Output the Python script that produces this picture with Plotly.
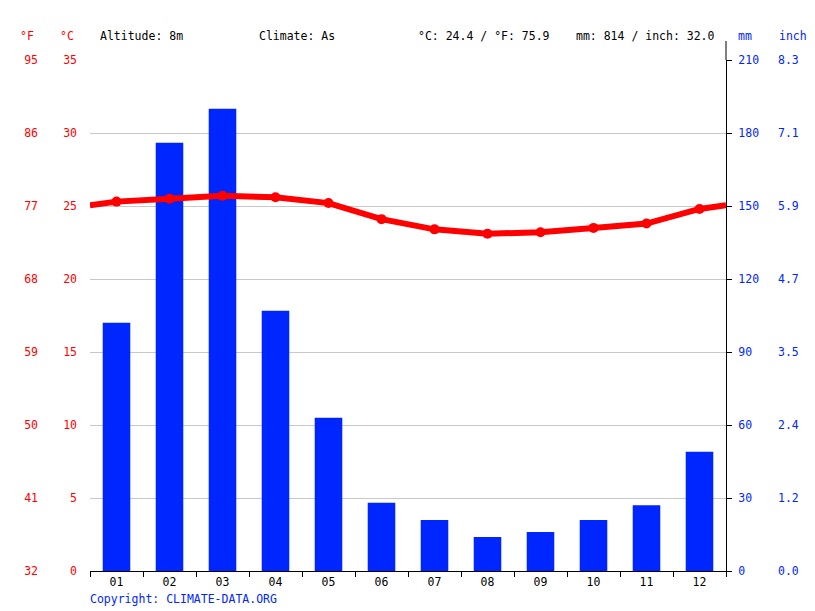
import plotly.graph_objects as go

months = ["01", "02", "03", "04", "05", "06", "07", "08", "09", "10", "11", "12"]
precip_mm = [102, 176, 190, 107, 63, 28, 21, 14, 16, 21, 27, 49]
temp_c = [25.3, 25.5, 25.7, 25.6, 25.2, 24.1, 23.4, 23.1, 23.2, 23.5, 23.8, 24.8]

c_ticks = [0, 5, 10, 15, 20, 25, 30, 35]
f_labels = ["32", "41", "50", "59", "68", "77", "86", "95"]
mm_ticks = [0, 30, 60, 90, 120, 150, 180, 210]
inch_labels = ["0.0", "1.2", "2.4", "3.5", "4.7", "5.9", "7.1", "8.3"]

RED = "#ff0000"
BLUE = "#0026ff"
FONT = "DejaVu Sans Mono"
FS = 11.5

xs = list(range(1, 13))
# line wraps around at the chart edges (mean of December and January)
edge = (temp_c[0] + temp_c[-1]) / 2
line_x = [0.5] + xs + [12.5]
line_y = [edge] + temp_c + [edge]

fig = go.Figure()
fig.add_trace(go.Bar(x=xs, y=precip_mm, marker=dict(color=BLUE, line=dict(width=0)),
                     width=0.52, yaxis="y", hoverinfo="skip"))
fig.add_trace(go.Scatter(x=[None], y=[None], mode="markers", yaxis="y4", hoverinfo="skip"))
fig.add_trace(go.Scatter(x=line_x, y=line_y, mode="lines", yaxis="y2",
                         line=dict(color=RED, width=6), hoverinfo="skip"))
fig.add_trace(go.Scatter(x=xs, y=temp_c, mode="markers", yaxis="y3",
                         marker=dict(color=RED, size=10), hoverinfo="skip"))

PT, PB = 60, 571
def py(v):
    return (PB - v) / (PB - PT)

fig.update_layout(
    width=815, height=611,
    margin=dict(l=0, r=0, t=PT, b=611 - PB),
    paper_bgcolor="white", plot_bgcolor="white",
    showlegend=False,
    font=dict(family=FONT, size=FS, color="black"),
    xaxis=dict(domain=[90/815, 726/815], range=[0.5, 12.5], tickvals=xs, ticktext=months,
               showgrid=False, zeroline=False, showline=True, linecolor="black", linewidth=1,
               ticks="", tickfont=dict(color="black", size=FS, family=FONT),
               minor=dict(tickvals=[i + 0.5 for i in range(0, 13)], ticks="outside",
                          ticklen=5, tickcolor="black", showgrid=False),
               fixedrange=True),
    yaxis=dict(side="right", anchor="x", range=[0, 210], tickvals=mm_ticks,
               showgrid=True, gridcolor="#c8c8c8", gridwidth=1, zeroline=False,
               showline=True, linecolor="black", linewidth=1, ticks="outside", ticklen=5,
               tickcolor="black", tickfont=dict(color=BLUE, size=FS, family=FONT),
               ticklabelstandoff=4),
    yaxis2=dict(side="left", overlaying="y", anchor="x", range=[0, 35], tickvals=c_ticks,
                showgrid=False, zeroline=False, showline=False, ticks="",
                tickfont=dict(color=RED, size=FS, family=FONT), ticklabelstandoff=12),
    yaxis3=dict(side="left", overlaying="y", anchor="free", position=38/815, range=[0, 35],
                tickvals=c_ticks, ticktext=f_labels, showgrid=False, zeroline=False,
                showline=False, ticks="", tickfont=dict(color=RED, size=FS, family=FONT)),
    yaxis4=dict(side="right", overlaying="y", anchor="free", position=777/815, range=[0, 210],
                tickvals=mm_ticks, ticktext=inch_labels, showgrid=False, zeroline=False,
                showline=False, ticks="", tickfont=dict(color=BLUE, size=FS, family=FONT)),
)

# right axis line continues above the plot area
fig.add_shape(type="line", xref="x domain", yref="paper", x0=1, x1=1, y0=1, y1=py(41),
              line=dict(color="black", width=1))

ann = [
    (36, "°F", RED, "right"),
    (76, "°C", RED, "right"),
    (98, "Altitude: 8m", "black", "left"),
    (257, "Climate: As", "black", "left"),
    (416, "°C: 24.4 / °F: 75.9", "black", "left"),
    (574, "mm: 814 / inch: 32.0", "black", "left"),
    (736, "mm", BLUE, "left"),
    (777, "inch", BLUE, "left"),
]
for x, t, c, a in ann:
    fig.add_annotation(x=x/815, y=py(36), xref="paper", yref="paper", text=t,
                       showarrow=False, xanchor=a, yanchor="middle",
                       font=dict(color=c, size=FS, family=FONT))
fig.add_annotation(x=88/815, y=py(599), xref="paper", yref="paper",
                   text="Copyright: CLIMATE-DATA.ORG", showarrow=False,
                   xanchor="left", yanchor="middle", font=dict(color=BLUE, size=FS, family=FONT))

fig.write_html("out.html")
